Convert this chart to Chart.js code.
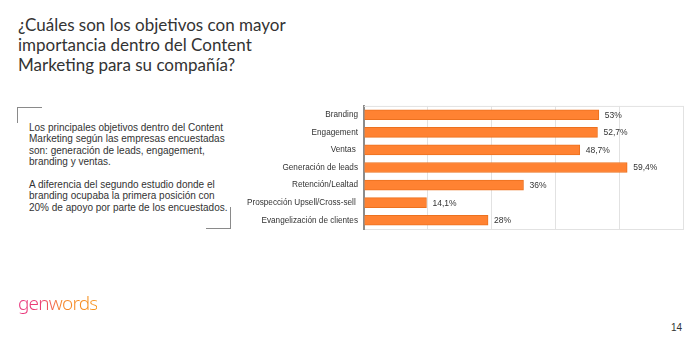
<!DOCTYPE html>
<html>
<head>
<meta charset="utf-8">
<script src="https://cdn.jsdelivr.net/npm/chart.js@4"></script>
<style>
    body { margin: 0; width: 700px; height: 342px; background: #fff; position: relative; overflow: hidden; }
    #title { position: absolute; left: 18px; top: 15px; font-family: Lato, "Open Sans", sans-serif; font-size: 17px; line-height: 20px; color: #333; }
    #note { position: absolute; left: 29px; top: 122px; width: 205px; font-family: "Liberation Sans", Arial, sans-serif; font-size: 10px; line-height: 11.3px; color: #333; }
    #note p { margin: 0 0 12px 0; }
    .corner { position: absolute; border-color: #8a8a8a; border-style: solid; border-width: 0; }
    #c1 { left: 17px; top: 107px; width: 24px; height: 15px; border-left-width: 1.5px; border-top-width: 1.5px; }
    #c2 { left: 206px; top: 207px; width: 24px; height: 21px; border-right-width: 1.5px; border-bottom-width: 1.5px; }
    #logo { position: absolute; left: 18px; top: 290px; font-family: "Noto Sans", sans-serif; font-weight: 300; font-size: 19px; letter-spacing: -0.8px;
        background: linear-gradient(90deg, #e8327c 0%, #ec3f72 30%, #f5852a 55%, #f7951d 100%); -webkit-background-clip: text; background-clip: text; color: transparent; }
    #page { position: absolute; left: 671px; top: 322px; font-family: "Liberation Sans", Arial, sans-serif; font-size: 10px; color: #333; }
    #wrap { position: absolute; left: 230px; top: 95px; width: 470px; height: 145px; }
</style>
</head>
<body>
<div id="title">¿Cuáles son los objetivos con mayor<br>importancia dentro del Content<br>Marketing para su compañía?</div>
<div class="corner" id="c1"></div>
<div id="note">
    <p>Los principales objetivos dentro del Content Marketing según las empresas encuestadas son: generación de leads, engagement, branding y ventas.</p>
    <p>A diferencia del segundo estudio donde el branding ocupaba la primera posición con 20% de apoyo por parte de los encuestados.</p>
</div>
<div class="corner" id="c2"></div>
<div id="logo">genwords</div>
<div id="page">14</div>
<div id="wrap"><canvas id="main-chart"></canvas></div>

<script>
const objetivos = [
    "Branding",
    "Engagement",
    "Ventas ",
    "Generación de leads",
    "Retención/Lealtad",
    "Prospección Upsell/Cross-sell ",
    "Evangelización de clientes",
];
const porcentajes = [53, 52.7, 48.7, 59.4, 36, 14.1, 28];
const escalaMax = 72;
const escalaPaso = 14.4;

// value labels at the end of each bar, comma decimals like the source
const valueLabels = {
    id: "valueLabels",
    afterDatasetsDraw(chart) {
        const ctx = chart.ctx;
        const meta = chart.getDatasetMeta(0);
        ctx.save();
        ctx.font = "8.5px 'Liberation Sans', Arial, sans-serif";
        ctx.fillStyle = "#333";
        ctx.textBaseline = "middle";
        meta.data.forEach((bar, i) => {
            const txt = String(porcentajes[i]).replace(".", ",") + "%";
            ctx.fillText(txt, bar.x + 6, bar.y + 0.5);
        });
        ctx.restore();
    },
};

// top edge of the plot box
const topLine = {
    id: "topLine",
    beforeDatasetsDraw(chart) {
        const { ctx, chartArea } = chart;
        ctx.save();
        ctx.strokeStyle = "#e2e2e2";
        ctx.lineWidth = 1;
        ctx.beginPath();
        ctx.moveTo(chartArea.left, chartArea.top + 0.5);
        ctx.lineTo(chartArea.right, chartArea.top + 0.5);
        ctx.stroke();
        ctx.restore();
    },
};

let chartCanvas = document.getElementById("main-chart");

new Chart(chartCanvas, {
    type: "bar",
    data: {
        labels: objetivos,
        datasets: [
            {
                data: porcentajes,
                backgroundColor: "#ff8232",
                borderColor: "#ec711f",
                borderWidth: 1,
                barThickness: 10,
            },
        ],
    },
    options: {
        indexAxis: "y",
        responsive: true,
        maintainAspectRatio: false,
        animation: false,
        layout: {
            padding: { top: 10, left: 0, right: 17, bottom: 10 },
        },
        scales: {
            x: {
                min: 0,
                max: escalaMax,
                ticks: { display: false, stepSize: escalaPaso },
                grid: { color: "#e2e2e2", drawTicks: false, lineWidth: 1 },
                border: { display: true, color: "#e2e2e2" },
            },
            y: {
                afterFit(scale) {
                    scale.width = 134;
                },
                grid: { display: false, drawTicks: false },
                border: { display: true, color: "#8c8c8c", width: 2 },
                ticks: {
                    padding: 6,
                    color: "#333",
                    font: { family: "'Liberation Sans', Arial, sans-serif", size: 8.2 },
                },
            },
        },
        plugins: {
            legend: { display: false },
            tooltip: { enabled: false },
        },
    },
    plugins: [valueLabels, topLine],
});
</script>
</body>
</html>
